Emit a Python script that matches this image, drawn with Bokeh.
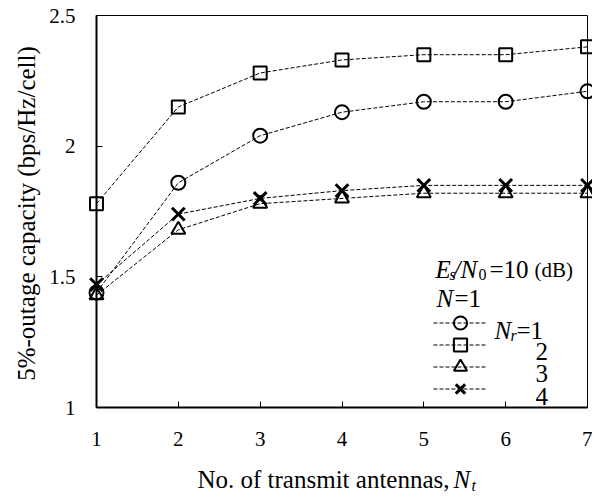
import math
from bokeh.plotting import figure
from bokeh.models import (Range1d, Label, Legend, LegendItem, FixedTicker,
                          ColumnDataSource, LinearAxis)
from bokeh.embed import file_html
from bokeh.resources import INLINE

# ---- data ----
tx_antennas = [1, 2, 3, 4, 5, 6, 7]
cap_nr1 = [1.44, 1.86, 2.04, 2.13, 2.17, 2.17, 2.21]
cap_nr2 = [1.78, 2.15, 2.28, 2.33, 2.35, 2.35, 2.38]
cap_nr3 = [1.43, 1.68, 1.78, 1.80, 1.82, 1.82, 1.82]
cap_nr4 = [1.47, 1.74, 1.80, 1.83, 1.85, 1.85, 1.85]
series_names = ["1", "2", "3", "4"]
series_markers = ["circle", "square", "triangle", "x"]
x_ticks = [1, 2, 3, 4, 5, 6, 7]
y_ticks = [1, 1.5, 2, 2.5]
x_lim = (1, 7)
y_lim = (1, 2.5)

SERIF = "Liberation Serif"

# ---- layout (pixels) ----
W, H = 592, 495
BOX_L, BOX_R, BOX_T, BOX_B = 96, 587, 15, 407   # plot box on the canvas
sx = (BOX_R - BOX_L) / (x_lim[1] - x_lim[0])
sy = (BOX_B - BOX_T) / (y_lim[1] - y_lim[0])
x_range = Range1d(x_lim[0] - BOX_L / sx, x_lim[1] + (W - BOX_R) / sx)
y_range = Range1d(y_lim[0] - (H - BOX_B) / sy, y_lim[1] + BOX_T / sy)

p = figure(width=W, height=H, output_backend="svg", toolbar_location=None,
           x_range=x_range, y_range=y_range, x_axis_type=None, y_axis_type=None,
           min_border=0, min_border_left=0, min_border_right=0,
           min_border_top=0, min_border_bottom=0)
p.background_fill_color = "white"
p.border_fill_color = "white"
p.outline_line_color = None


def make_axis(loc, ticks, bounds, width, labels=True):
    ax = LinearAxis(fixed_location=loc, bounds=bounds, ticker=FixedTicker(ticks=ticks))
    ax.axis_line_width = width
    ax.axis_line_color = "black"
    ax.major_tick_in = 6
    ax.major_tick_out = 0
    ax.major_tick_line_width = 1
    ax.minor_tick_line_color = None
    ax.major_label_text_font = SERIF
    ax.major_label_text_font_size = "21px"
    ax.major_label_text_color = "black" if labels else None
    return ax


xax = make_axis(y_lim[0], x_ticks, x_lim, 2)
xax.major_label_standoff = 24
yax = make_axis(x_lim[0], y_ticks, y_lim, 2)
yax.major_label_standoff = 21
yax.major_label_overrides = {1: "1", 1.5: "1.5", 2: "2", 2.5: "2.5"}
top_ax = make_axis(y_lim[1], [], x_lim, 1, labels=False)
right_ax = make_axis(x_lim[1], [], y_lim, 1, labels=False)
p.add_layout(xax, "below")
p.add_layout(yax, "left")
p.add_layout(top_ax, "above")
p.add_layout(right_ax, "right")

series = [cap_nr1, cap_nr2, cap_nr3, cap_nr4]
sizes = {"circle": 14, "square": 13, "triangle": 14, "x": 18}
widths = {"circle": 2, "square": 2, "triangle": 2, "x": 3}
renderers = []
for vals, mk in zip(series, series_markers):
    src = ColumnDataSource(dict(x=tx_antennas, y=vals))
    lr = p.line("x", "y", source=src, line_color="black", line_width=1, line_dash="4 2")
    sr = p.scatter("x", "y", source=src, marker=mk, size=sizes[mk], line_color="black",
                   line_width=widths[mk], fill_alpha=0)
    renderers.append((lr, sr))

# legend: one row per series (glyph part), rows 22 px apart
row_centers = [322, 344, 366, 388]
GLYPH_W, GLYPH_H = 54, 33
for (lr, sr), cy in zip(renderers, row_centers):
    lg = Legend(items=[LegendItem(label=" ", renderers=[lr, sr])],
                location=(433, int(round(H - (cy + GLYPH_H / 2)))),
                glyph_width=GLYPH_W, glyph_height=GLYPH_H, padding=0, margin=0, spacing=0,
                label_standoff=0, label_width=0, label_height=0, label_text_font_size="1px",
                border_line_color=None, background_fill_alpha=0)
    p.add_layout(lg, "center")


def lab(px, py, text, size, italic=False, align="left", angle=0.0, baseline="alphabetic"):
    p.add_layout(Label(x=px, y=H - py, x_units="screen", y_units="screen", text=text,
                       text_font=SERIF, text_font_size=f"{size}px",
                       text_font_style="italic" if italic else "normal",
                       text_align=align, text_baseline=baseline, angle=angle,
                       text_color="black"))


# axis titles
lab(449, 479, "No. of transmit antennas,", 25, align="right")
lab(453, 479, "N", 25, italic=True)
lab(471, 485, "t", 16, italic=True)
lab(26, 213, "5%-outage capacity (bps/Hz/cell)", 25, align="center",
    angle=math.pi / 2, baseline="middle")

# legend header texts
lab(435, 269, "E", 25, italic=True)
lab(449, 274, "s", 16, italic=True)
lab(453, 269, "/", 25, italic=True)
lab(460, 269, "N", 25, italic=True)
lab(478, 274, "0", 16)
lab(489, 269, "=10", 25)
lab(534, 269, "(dB)", 21)
lab(436, 298, "N", 25, italic=True)
lab(454, 298, "=1", 25)
# legend entry labels
lab(494, 330, "N", 25, italic=True)
lab(510, 335, "r", 16, italic=True)
lab(516, 330, "=1", 25)
lab(535, 351, series_names[1], 25)
lab(535, 373, series_names[2], 25)
lab(535, 396, series_names[3], 25)

open("out.html", "w").write(file_html(p, INLINE))
